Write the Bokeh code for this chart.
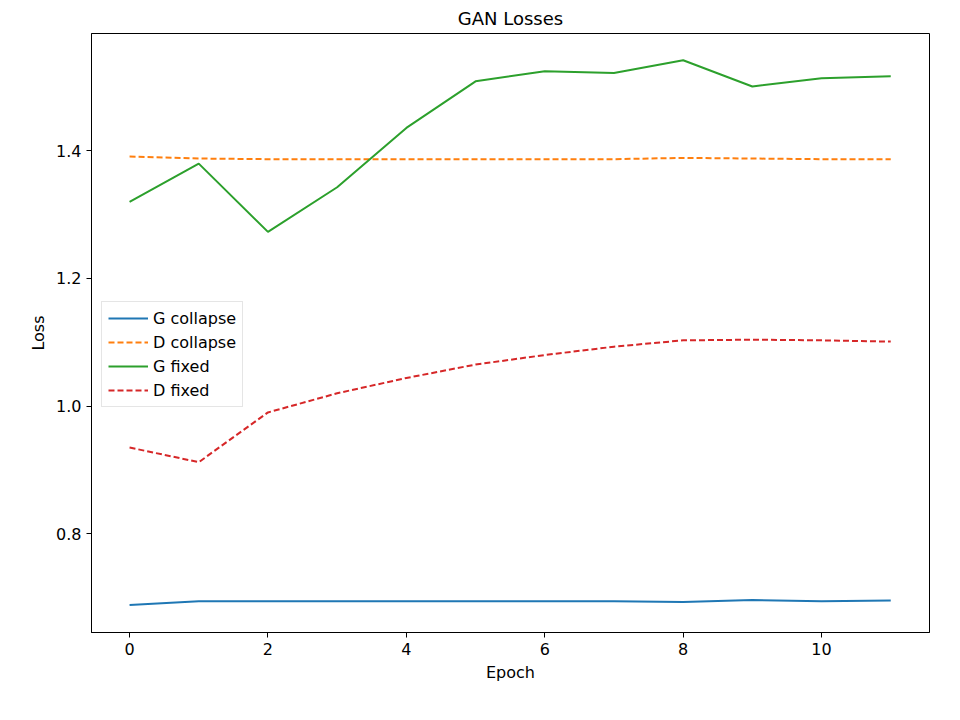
from bokeh.plotting import figure
from bokeh.embed import file_html
from bokeh.resources import INLINE
from bokeh.models import Legend, FixedTicker, PrintfTickFormatter

epochs = list(range(12))
g_collapse = [0.688, 0.694, 0.694, 0.694, 0.694, 0.694, 0.694, 0.694, 0.693, 0.696, 0.694, 0.695]
d_collapse = [1.391, 1.388, 1.387, 1.387, 1.387, 1.387, 1.387, 1.387, 1.389, 1.388, 1.387, 1.387]
g_fixed = [1.320, 1.380, 1.273, 1.343, 1.436, 1.509, 1.525, 1.522, 1.542, 1.501, 1.514, 1.517]
d_fixed = [0.935, 0.912, 0.990, 1.020, 1.044, 1.065, 1.080, 1.093, 1.103, 1.104, 1.103, 1.101]

p = figure(width=944, height=704, output_backend="svg", toolbar_location=None,
           x_range=(-0.55, 11.56), y_range=(0.645, 1.584), title="GAN Losses",
           min_border_left=91, min_border_right=15, min_border_bottom=72, min_border_top=22)
p.title.align = "center"
p.title.text_font_size = "18px"
p.title.text_font_style = "normal"
p.title.text_font = "DejaVu Sans"
p.title.text_color = "black"
p.grid.visible = False
p.outline_line_color = "black"
p.xaxis.axis_label = "Epoch"
p.yaxis.axis_label = "Loss"
p.xaxis.ticker = FixedTicker(ticks=[0, 2, 4, 6, 8, 10])
p.yaxis.ticker = FixedTicker(ticks=[0.8, 1.0, 1.2, 1.4])
p.yaxis.formatter = PrintfTickFormatter(format="%.1f")
for ax in (p.xaxis, p.yaxis):
    ax.axis_label_text_font_style = "normal"
    ax.axis_label_text_font = "DejaVu Sans"
    ax.axis_label_text_font_size = "16px"
    ax.axis_label_text_color = "black"
    ax.major_label_text_font = "DejaVu Sans"
    ax.major_label_text_font_size = "16px"
    ax.major_label_text_color = "black"
    ax.axis_line_color = "black"
    ax.major_tick_line_color = "black"
    ax.minor_tick_line_color = None
    ax.major_tick_in = 0
    ax.major_tick_out = 5

r1 = p.line(epochs, g_collapse, color="#1f77b4", line_width=2)
r2 = p.line(epochs, d_collapse, color="#ff7f0e", line_width=2, line_dash="6 3")
r3 = p.line(epochs, g_fixed, color="#2ca02c", line_width=2)
r4 = p.line(epochs, d_fixed, color="#d62728", line_width=2, line_dash="6 3")

legend = Legend(items=[("G collapse", [r1]), ("D collapse", [r2]),
                       ("G fixed", [r3]), ("D fixed", [r4])],
                location=(10, 225), label_text_font="DejaVu Sans",
                label_text_font_size="16px", label_text_color="black",
                border_line_color="#cccccc", spacing=4, padding=6, glyph_width=40)
p.add_layout(legend)

open("out.html", "w").write(file_html(p, INLINE))
